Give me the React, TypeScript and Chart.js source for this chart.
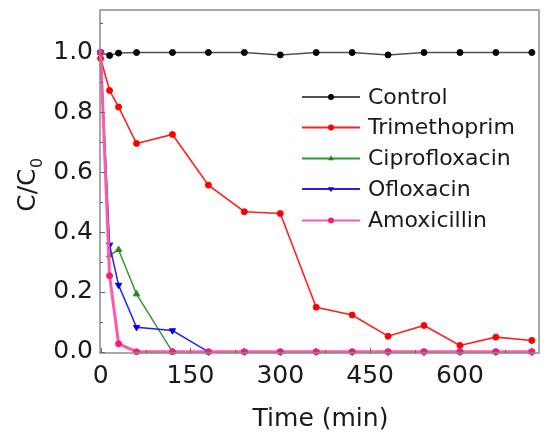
import React, { useEffect, useRef } from "react";
import { Chart, registerables } from "chart.js";

Chart.register(...registerables);

// ---- data ----
const TIMES = [0, 15, 30, 60, 120, 180, 240, 300, 360, 420, 480, 540, 600, 660, 720];
const CONTROL = [1.0, 0.99, 0.998, 1.0, 1.0, 1.0, 1.0, 0.992, 1.0, 1.0, 0.992, 1.0, 1.0, 1.0, 1.0];
const TRIMETHOPRIM = [0.98, 0.873, 0.818, 0.696, 0.726, 0.557, 0.468, 0.462, 0.149, 0.123, 0.052, 0.088, 0.021, 0.049, 0.038];
const CIPROFLOXACIN = [1.0, 0.323, 0.341, 0.193, 0, 0, 0, 0, 0, 0, 0, 0, 0, 0, 0];
const OFLOXACIN = [1.0, 0.357, 0.223, 0.082, 0.071, 0, 0, 0, 0, 0, 0, 0, 0, 0, 0];
const AMOXICILLIN = [1.0, 0.254, 0.027, 0, 0, 0, 0, 0, 0, 0, 0, 0, 0, 0, 0];

const X_TICKS = [0, 150, 300, 450, 600];
const X_MINOR = [75, 225, 375, 525, 675];
const Y_TICKS = [0, 0.2, 0.4, 0.6, 0.8, 1.0];
const Y_MINOR = [0.1, 0.3, 0.5, 0.7, 0.9, 1.1];

const X_TITLE = "Time (min)";
const Y_TITLE_MAIN = "C/C";
const Y_TITLE_SUB = "0";

const FONT = "'DejaVu Sans', sans-serif";

const W = 550;
const H = 442;

type Series = {
  label: string;
  data: number[];
  line: string;
  point: string;
  style: string;
  rotation: number;
  width: number;
  order: number;
};

const SERIES: Series[] = [
  { label: "Control", data: CONTROL, line: "#505050", point: "#000000", style: "circle", rotation: 0, width: 1.5, order: 5 },
  { label: "Trimethoprim", data: TRIMETHOPRIM, line: "#ff2020", point: "#ff0000", style: "circle", rotation: 0, width: 1.6, order: 4 },
  { label: "Ciprofloxacin", data: CIPROFLOXACIN, line: "#2f9a2f", point: "#1f8a1f", style: "triangle", rotation: 0, width: 1.5, order: 3 },
  { label: "Ofloxacin", data: OFLOXACIN, line: "#2020ff", point: "#0000ee", style: "triangle", rotation: 180, width: 1.5, order: 2 },
  { label: "Amoxicillin", data: AMOXICILLIN, line: "#ff5aa8", point: "#f01c80", style: "circle", rotation: 0, width: 3, order: 1 },
];

const decorPlugin = {
  id: "decor",
  afterDatasetsDraw(chart: any) {
    const { ctx, chartArea: a, scales } = chart;
    const xs = scales.x;
    const ys = scales.y;
    ctx.save();
    // frame
    ctx.strokeStyle = "#8c8c8c";
    ctx.lineWidth = 1.5;
    ctx.strokeRect(a.left, a.top, a.right - a.left, a.bottom - a.top);
    // inward ticks
    ctx.strokeStyle = "#666666";
    ctx.lineWidth = 1;
    ctx.beginPath();
    X_TICKS.forEach((v) => {
      const px = Math.round(xs.getPixelForValue(v)) + 0.5;
      ctx.moveTo(px, a.bottom);
      ctx.lineTo(px, a.bottom - 5);
    });
    X_MINOR.forEach((v) => {
      const px = Math.round(xs.getPixelForValue(v)) + 0.5;
      ctx.moveTo(px, a.bottom);
      ctx.lineTo(px, a.bottom - 3);
    });
    Y_TICKS.forEach((v) => {
      const py = Math.round(ys.getPixelForValue(v)) + 0.5;
      ctx.moveTo(a.left, py);
      ctx.lineTo(a.left + 5, py);
    });
    Y_MINOR.forEach((v) => {
      const py = Math.round(ys.getPixelForValue(v)) + 0.5;
      ctx.moveTo(a.left, py);
      ctx.lineTo(a.left + 3, py);
    });
    ctx.stroke();

    // legend
    const lx0 = 302;
    const lx1 = 360;
    const tx = 368;
    const rows = [97, 127.5, 158.5, 189, 220.5];
    ctx.font = `22px ${FONT}`;
    ctx.textBaseline = "middle";
    ctx.textAlign = "left";
    chart.data.datasets.forEach((d: any, i: number) => {
      const yy = rows[i];
      ctx.strokeStyle = d.borderColor;
      ctx.lineWidth = 2;
      ctx.beginPath();
      ctx.moveTo(lx0, yy);
      ctx.lineTo(lx1, yy);
      ctx.stroke();
      ctx.fillStyle = d.pointBackgroundColor;
      ctx.beginPath();
      const cx = (lx0 + lx1) / 2;
      const r = 3;
      if (d.pointStyle === "triangle") {
        const dir = d.pointRotation === 180 ? -1 : 1;
        ctx.moveTo(cx - r, yy + dir * r * 0.6);
        ctx.lineTo(cx + r, yy + dir * r * 0.6);
        ctx.lineTo(cx, yy - dir * r * 1.1);
        ctx.closePath();
      } else {
        ctx.arc(cx, yy, r, 0, Math.PI * 2);
      }
      ctx.fill();
      ctx.fillStyle = "#1a1a1a";
      ctx.fillText(d.label, tx, yy + 1);
    });
    ctx.restore();
  },
  afterDraw(chart: any) {
    const { ctx, chartArea: a } = chart;
    ctx.save();
    ctx.fillStyle = "#1a1a1a";
    // x title
    ctx.font = `25px ${FONT}`;
    ctx.textAlign = "center";
    ctx.textBaseline = "middle";
    ctx.fillText(X_TITLE, (a.left + a.right) / 2 + 1, 419);
    // y title with subscript
    ctx.translate(35, 185);
    ctx.rotate(-Math.PI / 2);
    ctx.textAlign = "left";
    ctx.textBaseline = "alphabetic";
    const mainFont = `25px ${FONT}`;
    const subFont = `16px ${FONT}`;
    ctx.font = mainFont;
    const w1 = ctx.measureText(Y_TITLE_MAIN).width;
    ctx.font = subFont;
    const w2 = ctx.measureText(Y_TITLE_SUB).width;
    const start = -(w1 + w2) / 2;
    ctx.font = mainFont;
    ctx.fillText(Y_TITLE_MAIN, start, 0);
    ctx.font = subFont;
    ctx.fillText(Y_TITLE_SUB, start + w1 + 0.5, 7);
    ctx.restore();
  },
};

export default function App() {
  const ref = useRef<HTMLCanvasElement | null>(null);

  useEffect(() => {
    if (!ref.current) return;
    const chart = new Chart(ref.current, {
      type: "line",
      data: {
        datasets: SERIES.map((s) => ({
          label: s.label,
          data: TIMES.map((t, i) => ({ x: t, y: s.data[i] })),
          borderColor: s.line,
          backgroundColor: s.point,
          pointBackgroundColor: s.point,
          pointBorderColor: s.point,
          pointStyle: s.style,
          pointRotation: s.rotation,
          pointRadius: s.style === "triangle" ? 3.6 : 3,
          pointBorderWidth: 1,
          borderWidth: s.width,
          order: s.order,
          tension: 0,
          clip: false,
          fill: false,
        })) as any,
      },
      options: {
        animation: false,
        responsive: false,
        maintainAspectRatio: false,
        events: [],
        layout: { padding: { top: 10, right: 11, left: 0, bottom: 0 } },
        plugins: {
          legend: { display: false },
          tooltip: { enabled: false },
          title: { display: false },
        },
        scales: {
          x: {
            type: "linear",
            min: -1,
            max: 732,
            afterBuildTicks: (s: any) => {
              s.ticks = X_TICKS.map((v) => ({ value: v }));
            },
            afterFit: (s: any) => {
              s.height = 89;
              s.paddingLeft = 0;
              s.paddingRight = 0;
            },
            ticks: {
              autoSkip: false,
              maxRotation: 0,
              padding: 8,
              color: "#1a1a1a",
              font: { family: FONT, size: 25 },
              callback: (v: any) => String(v),
            },
            grid: { display: false, drawTicks: false },
            border: { display: false },
          },
          y: {
            type: "linear",
            min: -0.004,
            max: 1.142,
            afterBuildTicks: (s: any) => {
              s.ticks = Y_TICKS.map((v) => ({ value: v }));
            },
            afterFit: (s: any) => {
              s.width = 100;
              s.paddingTop = 0;
              s.paddingBottom = 0;
            },
            ticks: {
              autoSkip: false,
              padding: 7,
              color: "#1a1a1a",
              font: { family: FONT, size: 25 },
              callback: (v: any) => Number(v).toFixed(1),
            },
            grid: { display: false, drawTicks: false },
            border: { display: false },
          },
        },
      },
      plugins: [decorPlugin],
    });
    return () => chart.destroy();
  }, []);

  return (
    <div style={{ position: "absolute", left: 0, top: 0, width: W, height: H, background: "#fff" }}>
      <canvas ref={ref} width={W} height={H} style={{ width: W, height: H, display: "block" }} />
    </div>
  );
}
